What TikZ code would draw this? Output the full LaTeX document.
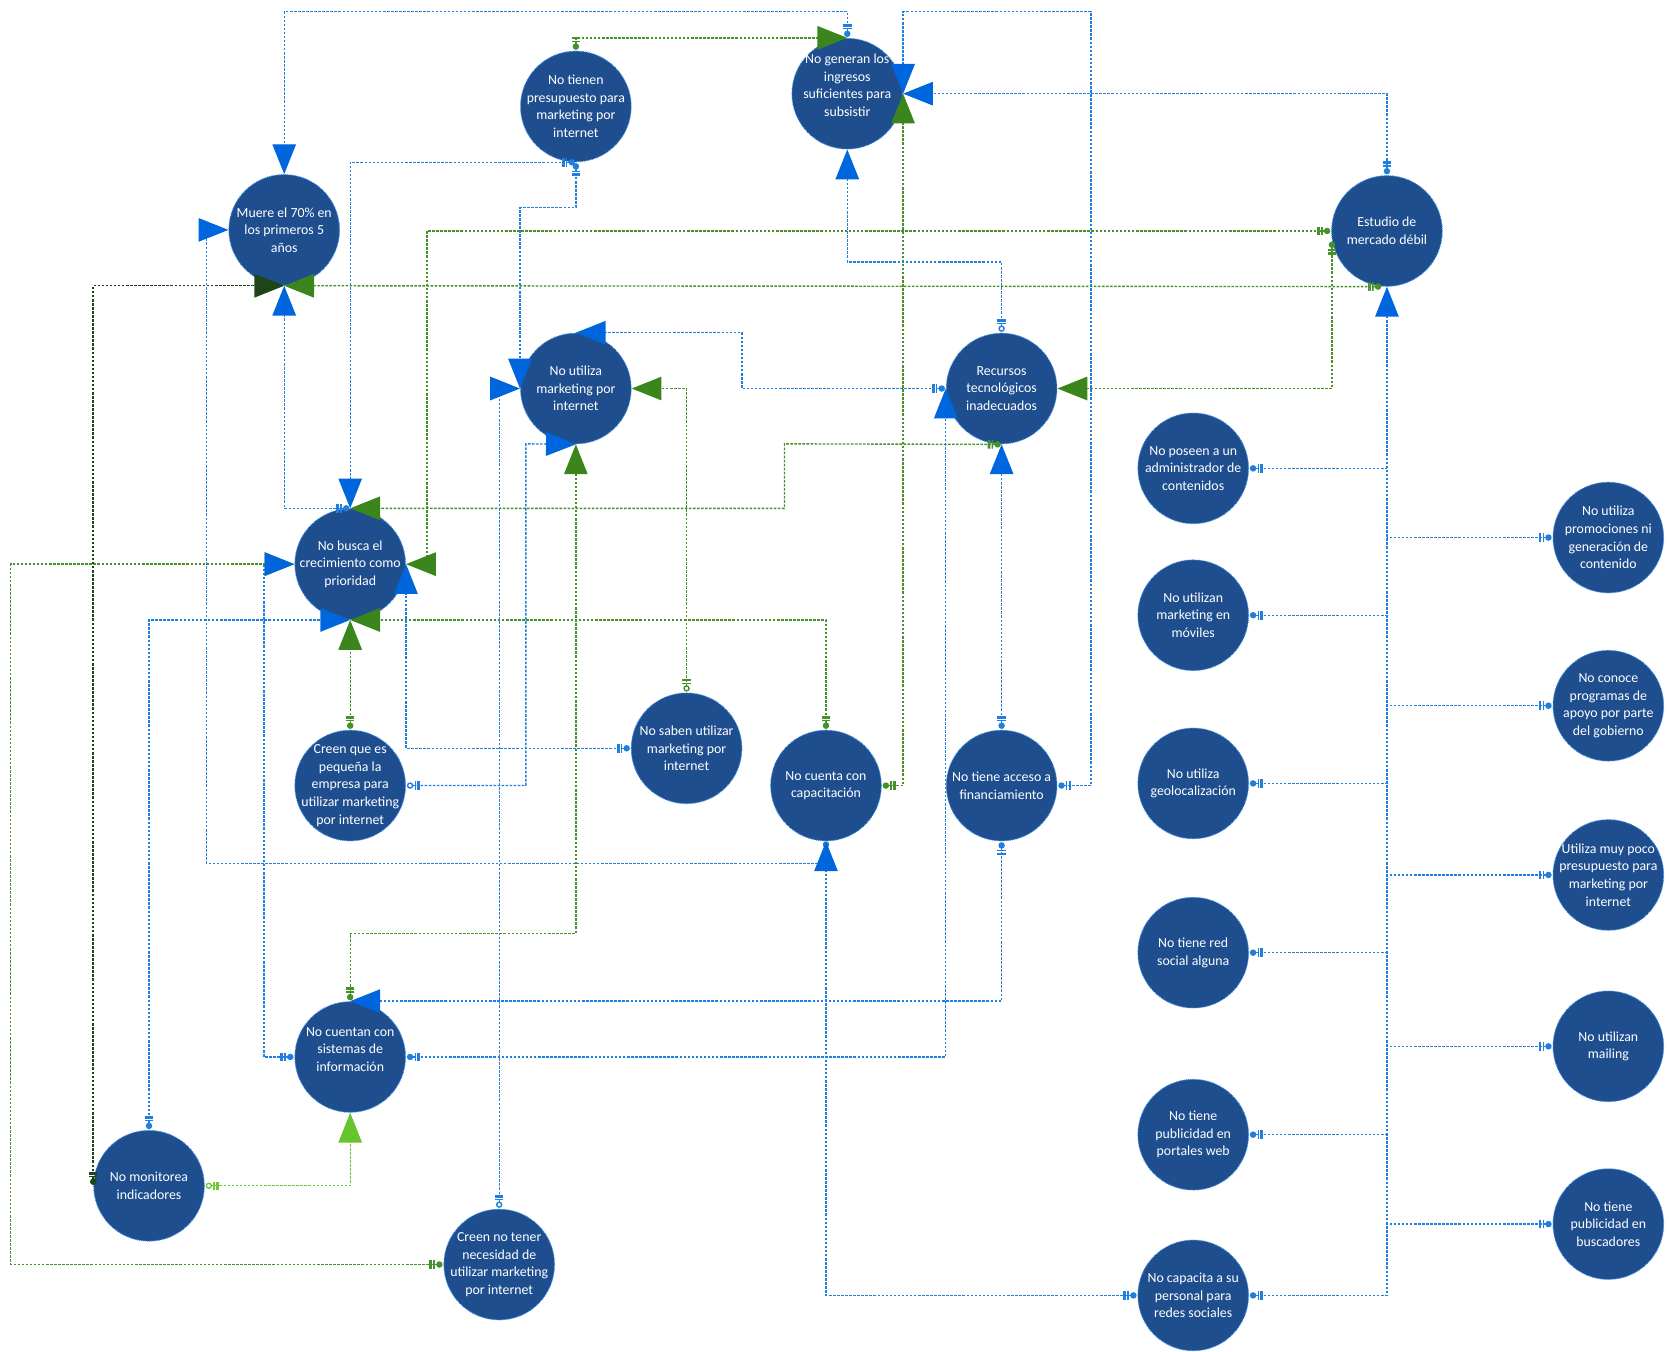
\documentclass[tikz,border=0pt]{standalone}
\usepackage{fontspec}
\setmainfont{Carlito}
\usetikzlibrary{arrows.meta}
\definecolor{nodefill}{HTML}{1F4E8F}
\definecolor{nodeborder}{HTML}{3A8EE6}
\definecolor{lineblue}{HTML}{1F7FDF}
\definecolor{arrowblue}{HTML}{0066DD}
\definecolor{linegreen}{HTML}{45912A}
\definecolor{arrowgreen}{HTML}{3A861C}
\definecolor{darkgreen}{HTML}{1E4515}
\definecolor{lightgreen}{HTML}{6DCA37}
\definecolor{arrowlight}{HTML}{66C52E}
\tikzset{
  cnode/.style={circle, fill=nodefill, draw=nodeborder, densely dotted, line width=0.9pt,
    minimum size=104pt, inner sep=0pt},
  ctext/.style={inner sep=0pt, text=white, align=center,
    font=\fontsize{13}{16.5}\selectfont},
  lnk/.style={line width=1.3pt, dash pattern=on 2.4pt off 1.4pt},
  bl/.style={lnk, draw=lineblue},
  gr/.style={lnk, draw=linegreen},
  dg/.style={lnk, draw=darkgreen},
  lg/.style={lnk, draw=lightgreen},
  mk/.style={arrows={Circle[length=6pt,width=6pt,sep=0.8pt] Bar[width=8pt,sep=1.2pt] Bar[width=8pt,sep=1.2pt] Bar[width=8pt]-Triangle[length=28pt,width=22pt,color=#1]}},
  mo/.style={arrows={Circle[length=6pt,width=6pt,sep=0.8pt,fill=white] Bar[width=8pt,sep=1.2pt] Bar[width=8pt,sep=1.2pt] Bar[width=8pt]-Triangle[length=28pt,width=22pt,color=#1]}},
  mn/.style={arrows={Circle[length=6pt,width=6pt,sep=0.8pt] Bar[width=8pt,sep=1.2pt] Bar[width=8pt,sep=1.2pt] Bar[width=8pt]-}},
  md/.style={arrows={Circle[length=6pt,width=6pt]-Triangle[length=28pt,width=22pt,color=#1]}},
}
\newcommand{\cnd}[4][0]{%
  \node[cnode] (#2) at (#3) {};
  \node[ctext] (#2t) at ([yshift=#1pt]#2.center) {#4};}
\begin{document}
\begin{tikzpicture}[x=1pt,y=-1pt]
\useasboundingbox (0,0) rectangle (1568,1270);
\fill[white] (0,0) rectangle (1568,1270);

% nodes
\cnd{A}{267,216}{Muere el 70\% en\\los primeros 5\\años}
\cnd{B}{541,100}{No tienen\\presupuesto para\\marketing por\\internet}
\cnd[8]{C}{796,88}{No generan los\\ingresos\\suficientes para\\subsistir}
\cnd{D}{1303,217}{Estudio de\\mercado débil}
\cnd{E}{541,365}{No utiliza\\marketing por\\internet}
\cnd{F}{941,365}{Recursos\\tecnológicos\\inadecuados}
\cnd{G}{329,530}{No busca el\\crecimiento como\\prioridad}
\cnd{H}{1121,440}{No poseen a un\\administrador de\\contenidos}
\cnd{I}{1511,505}{No utiliza\\promociones ni\\generación de\\contenido}
\cnd{J}{1121,578}{No utilizan\\marketing en\\móviles}
\cnd{K}{1511,663}{No conoce\\programas de\\apoyo por parte\\del gobierno}
\cnd{L}{329,738}{Creen que es\\pequeña la\\empresa para\\utilizar marketing\\por internet}
\cnd{M}{645,703}{No saben utilizar\\marketing por\\internet}
\cnd{N}{776,738}{No cuenta con\\capacitación}
\cnd{O}{941,738}{No tiene acceso a\\financiamiento}
\cnd{P}{1121,736}{No utiliza\\geolocalización}
\cnd{Q}{1511,822}{Utiliza muy poco\\presupuesto para\\marketing por\\internet}
\cnd{R}{1121,895}{No tiene red\\social alguna}
\cnd[7]{S}{329,993}{No cuentan con\\sistemas de\\información}
\cnd{T}{1511,983}{No utilizan\\mailing}
\cnd{U}{1121,1066}{No tiene\\publicidad en\\portales web}
\cnd{V}{140,1114}{No monitorea\\indicadores}
\cnd{W}{469,1188}{Creen no tener\\necesidad de\\utilizar marketing\\por internet}
\cnd{X}{1511,1150}{No tiene\\publicidad en\\buscadores}
\cnd{Y}{1121,1217}{No capacita a su\\personal para\\redes sociales}

% green connectors
\draw[gr, mk=arrowgreen] (B.north) |- (C.north);
\draw[gr, mk=arrowgreen] (N.east) -| (C.east);
\draw[gr, mk=arrowgreen] (D.west) -| (401,530) -- (G.east);
\draw[gr, mk=arrowgreen] (D.265) -- (A.south);
\draw[gr, mk=arrowgreen] (D.190) |- (F.east);
\draw[gr, mk=arrowgreen] (F.south) -- (737,417) |- (G.north);
\draw[gr, mo=arrowgreen] (M.north) |- (E.east);
\draw[gr, mk=arrowgreen] (N.north) |- (G.south);
\draw[gr, mk=arrowgreen] (L.north) -- (G.south);
\draw[gr, mk=arrowgreen] (S.north) -- (329,877) -| (E.south);
\draw[gr, mk=arrowgreen] (W.west) -| (10,530) -- (G.west);
\draw[dg, mk=darkgreen] (V.west) |- (A.south);
\draw[lg, mo=arrowlight] (V.east) -| (S.south);

% blue connectors
\draw[bl, mk=arrowblue] (C.north) -- (796,11) -| (A.north);
\draw[bl, mk=arrowblue] (B.south) -- (541,195) -| (E.west);
\draw[bl, mk=arrowblue] (B.south) -| (G.north);
\draw[bl, mo=arrowblue] (F.north) -- (941,246) -| (C.south);
\draw[bl, mk=arrowblue] (F.west) -- (697,365) |- (E.north);
\draw[bl, mk=arrowblue] (D.north) |- (C.east);
\draw[bl, mk=arrowblue] (O.east) -| (1025,11) -| (C.east);
\draw[bl, md=arrowblue] (N.south) |- (194,811) |- (A.west);
\draw[bl, mk=arrowblue] (G.north) -| (A.south);
\draw[bl, mk=arrowblue] (S.east) -| (F.west);
\draw[bl, mk=arrowblue] (O.north) -- (F.south);
\draw[bl, mk=arrowblue] (O.south) |- (S.north);
\draw[bl, mo=arrowblue] (W.north) |- (E.west);
\draw[bl, mo=arrowblue] (L.east) -| (494,417) -- (E.south);
\draw[bl, mk=arrowblue] (M.west) -| (G.east);
\draw[bl, mk=arrowblue] (V.north) |- (G.south);
\draw[bl, mk=arrowblue] (S.west) -- (248,993) |- (G.west);
\draw[bl, mk=arrowblue] (Y.west) -| (N.south);
\draw[bl, mk=arrowblue] (Y.east) -| (D.south);
\draw[bl, mn] (H.east) -- (1303,440);
\draw[bl, mn] (J.east) -- (1303,578);
\draw[bl, mn] (P.east) -- (1303,736);
\draw[bl, mn] (R.east) -- (1303,895);
\draw[bl, mn] (U.east) -- (1303,1066);
\draw[bl, mn] (I.west) -- (1303,505);
\draw[bl, mn] (K.west) -- (1303,663);
\draw[bl, mn] (Q.west) -- (1303,822);
\draw[bl, mn] (T.west) -- (1303,983);
\draw[bl, mn] (X.west) -- (1303,1150);
\end{tikzpicture}
\end{document}
